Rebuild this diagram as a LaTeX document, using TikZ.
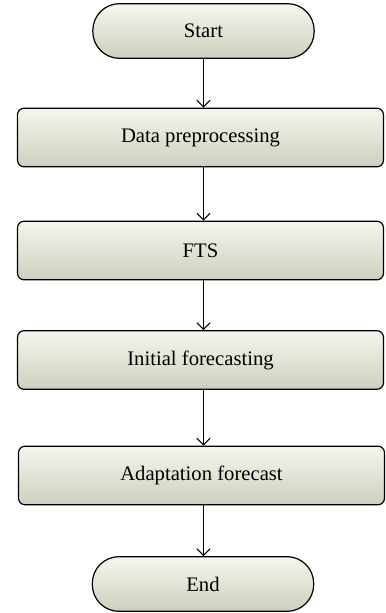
\documentclass[tikz,border=0pt]{standalone}
\usepackage{fontspec}
\setmainfont{Liberation Serif}
\usepackage{tikz}
\usetikzlibrary{arrows.meta}

\begin{document}
\begin{tikzpicture}[x=0.75pt,y=0.75pt,yscale=-1,xscale=1,
  every node/.style={font=\fontsize{15.5}{18}\selectfont},
  shade box/.style={draw=black,line width=0.9pt,top color={rgb,255:red,246;green,246;blue,239},bottom color={rgb,255:red,206;green,207;blue,189}},
  terminal/.style={shade box,rectangle,rounded corners=20pt,minimum width=166pt,minimum height=41pt},
  process/.style={shade box,rectangle,rounded corners=5pt,minimum width=274.5pt,minimum height=44pt},
  flow/.style={line width=0.75pt,-{Straight Barb[length=5pt,width=10pt]}}]
\useasboundingbox (0,0) rectangle (385,613);

% Terminals
\node[terminal] (start) at (203.5,31) {Start};
\node[terminal] (end) at (203,584) {End};

% Process steps
\node[process] (prep) at (200.5,137.5) {Data preprocessing};
\node[process] (fts) at (200.5,250.5) {FTS};
\node[process] (init) at (200.5,360) {Initial forecasting};
\node[process] (adapt) at (201.5,475.5) {Adaptation forecast};

% Connectors
\draw[flow] (start.south) -- (start.south |- prep.north);
\draw[flow] (start.south |- prep.south) -- (start.south |- fts.north);
\draw[flow] (start.south |- fts.south) -- (start.south |- init.north);
\draw[flow] (start.south |- init.south) -- (start.south |- adapt.north);
\draw[flow] (start.south |- adapt.south) -- (end.north -| start.south);

\end{tikzpicture}
\end{document}
